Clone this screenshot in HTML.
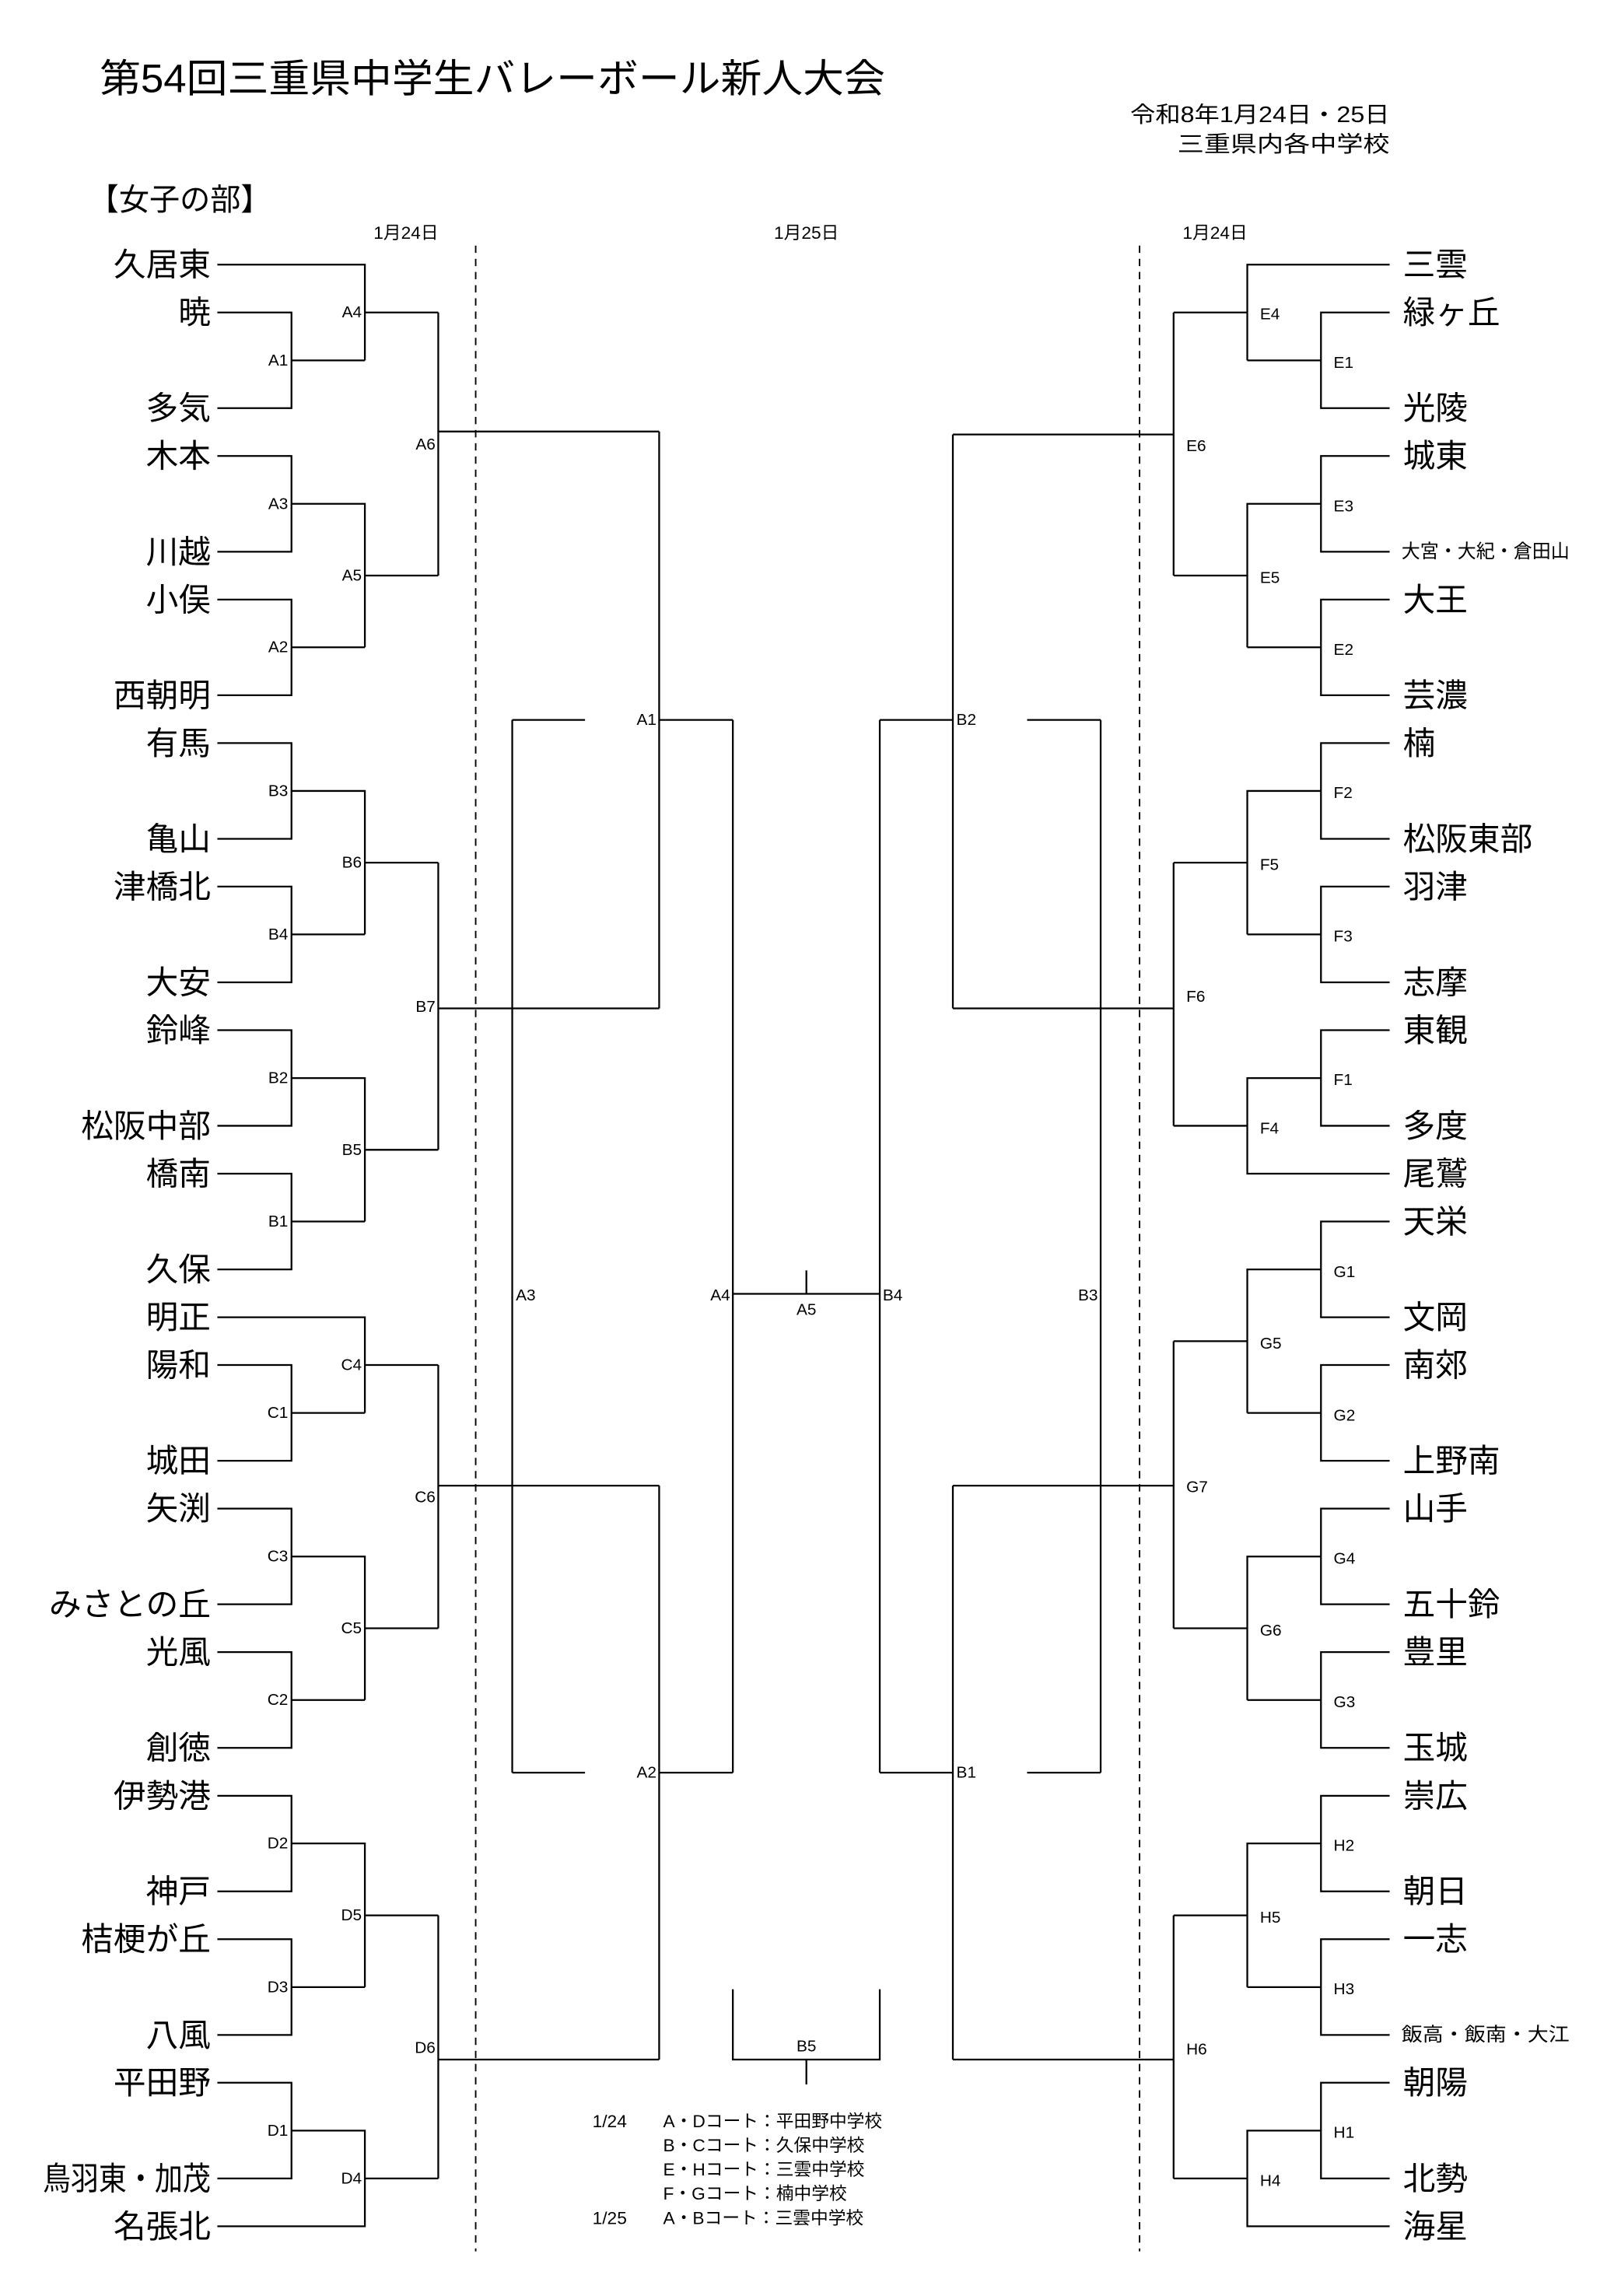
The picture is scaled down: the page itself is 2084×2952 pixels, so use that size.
<!DOCTYPE html>
<html><head><meta charset="utf-8">
<style>
html,body{margin:0;padding:0;background:#fff;}
svg{display:block;}
text{font-family:"Liberation Sans","Noto Sans CJK JP",sans-serif;fill:#000;}
.n{font-size:22px;dominant-baseline:central;}
.s{font-size:11px;dominant-baseline:central;}
.ns{font-size:13px;dominant-baseline:central;}
</style></head>
<body>
<svg width="2084" height="2952" viewBox="0 0 1100 1558" xmlns="http://www.w3.org/2000/svg">
<rect width="1100" height="1558" fill="#fff"/>
<g transform="matrix(1 0 0 0.99358 0 1.65)">
<text x="67.6" y="52" font-size="27" dominant-baseline="central" textLength="533" lengthAdjust="spacingAndGlyphs">第54回三重県中学生バレーボール新人大会</text>
<text x="767" y="77" font-size="15" dominant-baseline="central" textLength="176" lengthAdjust="spacingAndGlyphs">令和8年1月24日・25日</text>
<text x="799" y="97" font-size="15" dominant-baseline="central" textLength="144" lengthAdjust="spacingAndGlyphs">三重県内各中学校</text>
<text x="60" y="135" font-size="21" dominant-baseline="central" textLength="124" lengthAdjust="spacingAndGlyphs">【女子の部】</text>
<text x="275.5" y="157" font-size="12" text-anchor="middle" dominant-baseline="central">1月24日</text>
<text x="547.2" y="157" font-size="12" text-anchor="middle" dominant-baseline="central">1月25日</text>
<text x="824.5" y="157" font-size="12" text-anchor="middle" dominant-baseline="central">1月24日</text>

<g stroke="#000" stroke-width="1" stroke-dasharray="5 4">
<line x1="322.8" y1="166" x2="322.8" y2="1536"/>
<line x1="773.3" y1="166" x2="773.3" y2="1536"/>
</g>

<g fill="none" stroke="#000" stroke-width="1.2">
<path d="M147.5 179 H247.6 V244.4 M147.5 211.7 H197.8 V277 H147.5 M197.8 244.4 H247.6 M247.6 211.7 H297.4"/>
<path d="M147.5 309.7 H197.8 V375.1 H147.5 M197.8 342.4 H247.6 V440.4 M147.5 407.8 H197.8 V473.1 H147.5 M197.8 440.4 H247.6 M247.6 391.4 H297.4"/>
<path d="M297.4 211.7 V391.4 M297.4 293 H447.3"/>
<path d="M147.5 505.8 H197.8 V571.2 H147.5 M197.8 538.5 H247.6 V636.5 M147.5 603.8 H197.8 V669.2 H147.5 M197.8 636.5 H247.6 M247.6 587.5 H297.4"/>
<path d="M147.5 701.9 H197.8 V767.2 H147.5 M197.8 734.6 H247.6 V832.6 M147.5 799.9 H197.8 V865.3 H147.5 M197.8 832.6 H247.6 M247.6 783.6 H297.4"/>
<path d="M297.4 587.5 V783.6 M297.4 687 H447.3"/>
<path d="M147.5 898 H247.6 V963.3 M147.5 930.6 H197.8 V996 H147.5 M197.8 963.3 H247.6 M247.6 930.6 H297.4"/>
<path d="M147.5 1028.7 H197.8 V1094 H147.5 M197.8 1061.4 H247.6 V1159.4 M147.5 1126.7 H197.8 V1192.1 H147.5 M197.8 1159.4 H247.6 M247.6 1110.4 H297.4"/>
<path d="M297.4 930.6 V1110.4 M297.4 1013 H447.3"/>
<path d="M147.5 1224.8 H197.8 V1290.1 H147.5 M197.8 1257.4 H247.6 V1355.5 M147.5 1322.8 H197.8 V1388.2 H147.5 M197.8 1355.5 H247.6 M247.6 1306.5 H297.4"/>
<path d="M147.5 1420.8 H197.8 V1486.2 H147.5 M197.8 1453.5 H247.6 V1518.9 H147.5 M247.6 1486.2 H297.4"/>
<path d="M297.4 1306.5 V1486.2 M297.4 1405 H447.3"/>

<path d="M943 179 H846.4 V244.4 M943 211.7 H896.4 V277 H943 M896.4 244.4 H846.4 M846.4 211.7 H796.4"/>
<path d="M943 309.7 H896.4 V375.1 H943 M896.4 342.4 H846.4 V440.4 M943 407.8 H896.4 V473.1 H943 M896.4 440.4 H846.4 M846.4 391.4 H796.4"/>
<path d="M796.4 211.7 V391.4 M796.4 295 H646.6"/>
<path d="M943 505.8 H896.4 V571.2 H943 M896.4 538.5 H846.4 V636.5 M943 603.8 H896.4 V669.2 H943 M896.4 636.5 H846.4 M846.4 587.5 H796.4"/>
<path d="M943 701.9 H896.4 V767.2 H943 M896.4 734.6 H846.4 V799.9 H943 M846.4 767.2 H796.4"/>
<path d="M796.4 587.5 V767.2 M796.4 687 H646.6"/>
<path d="M943 832.6 H896.4 V898 H943 M896.4 865.3 H846.4 V963.3 M943 930.6 H896.4 V996 H943 M896.4 963.3 H846.4 M846.4 914.3 H796.4"/>
<path d="M943 1028.7 H896.4 V1094 H943 M896.4 1061.4 H846.4 V1159.4 M943 1126.7 H896.4 V1192.1 H943 M896.4 1159.4 H846.4 M846.4 1110.4 H796.4"/>
<path d="M796.4 914.3 V1110.4 M796.4 1013 H646.6"/>
<path d="M943 1224.8 H896.4 V1290.1 H943 M896.4 1257.4 H846.4 V1355.5 M943 1322.8 H896.4 V1388.2 H943 M896.4 1355.5 H846.4 M846.4 1306.5 H796.4"/>
<path d="M943 1420.8 H896.4 V1486.2 H943 M896.4 1453.5 H846.4 V1518.9 H943 M846.4 1486.2 H796.4"/>
<path d="M796.4 1306.5 V1486.2 M796.4 1405 H646.6"/>

<path d="M447.3 293 V687 M447.3 490 H497.3 M347.6 490 H397 M347.6 490 V1209 M497.3 490 V1209 M347.6 1209 H397 M447.3 1209 H497.3 M447.3 1013 V1405"/>
<path d="M646.6 295 V687 M597 490 H646.6 M697 490 H746.9 M597 490 V1209 M746.9 490 V1209 M597 1209 H646.6 M697 1209 H746.9 M646.6 1013 V1405"/>
<path d="M497.3 882 H597 M547.2 866 V882"/>
<path d="M497.3 1357 V1405 H597 V1357 M547.2 1405 V1422"/>
</g>

<g text-anchor="end">
<text class="n" x="143" y="179">久居東</text>
<text class="n" x="143" y="211.7">暁</text>
<text class="n" x="143" y="277">多気</text>
<text class="n" x="143" y="309.7">木本</text>
<text class="n" x="143" y="375.1">川越</text>
<text class="n" x="143" y="407.8">小俣</text>
<text class="n" x="143" y="473.1">西朝明</text>
<text class="n" x="143" y="505.8">有馬</text>
<text class="n" x="143" y="571.2">亀山</text>
<text class="n" x="143" y="603.8">津橋北</text>
<text class="n" x="143" y="669.2">大安</text>
<text class="n" x="143" y="701.9">鈴峰</text>
<text class="n" x="143" y="767.2">松阪中部</text>
<text class="n" x="143" y="799.9">橋南</text>
<text class="n" x="143" y="865.3">久保</text>
<text class="n" x="143" y="898">明正</text>
<text class="n" x="143" y="930.6">陽和</text>
<text class="n" x="143" y="996">城田</text>
<text class="n" x="143" y="1028.7">矢渕</text>
<text class="n" x="143" y="1094">みさとの丘</text>
<text class="n" x="143" y="1126.7">光風</text>
<text class="n" x="143" y="1192.1">創徳</text>
<text class="n" x="143" y="1224.8">伊勢港</text>
<text class="n" x="143" y="1290.1">神戸</text>
<text class="n" x="143" y="1322.8">桔梗が丘</text>
<text class="n" x="143" y="1388.2">八風</text>
<text class="n" x="143" y="1420.8">平田野</text>
<text class="n" x="143" y="1518.9">名張北</text>
</g>
<text class="n" x="29" y="1486.2" textLength="114" lengthAdjust="spacingAndGlyphs">鳥羽東・加茂</text>
<g>
<text class="n" x="952" y="179">三雲</text>
<text class="n" x="952" y="211.7">緑ヶ丘</text>
<text class="n" x="952" y="277">光陵</text>
<text class="n" x="952" y="309.7">城東</text>
<text class="ns" x="951" y="375.1" textLength="114" lengthAdjust="spacingAndGlyphs">大宮・大紀・倉田山</text>
<text class="n" x="952" y="407.8">大王</text>
<text class="n" x="952" y="473.1">芸濃</text>
<text class="n" x="952" y="505.8">楠</text>
<text class="n" x="952" y="571.2">松阪東部</text>
<text class="n" x="952" y="603.8">羽津</text>
<text class="n" x="952" y="669.2">志摩</text>
<text class="n" x="952" y="701.9">東観</text>
<text class="n" x="952" y="767.2">多度</text>
<text class="n" x="952" y="799.9">尾鷲</text>
<text class="n" x="952" y="832.6">天栄</text>
<text class="n" x="952" y="898">文岡</text>
<text class="n" x="952" y="930.6">南郊</text>
<text class="n" x="952" y="996">上野南</text>
<text class="n" x="952" y="1028.7">山手</text>
<text class="n" x="952" y="1094">五十鈴</text>
<text class="n" x="952" y="1126.7">豊里</text>
<text class="n" x="952" y="1192.1">玉城</text>
<text class="n" x="952" y="1224.8">崇広</text>
<text class="n" x="952" y="1290.1">朝日</text>
<text class="n" x="952" y="1322.8">一志</text>
<text class="ns" x="951" y="1388.2" textLength="114" lengthAdjust="spacingAndGlyphs">飯高・飯南・大江</text>
<text class="n" x="952" y="1420.8">朝陽</text>
<text class="n" x="952" y="1486.2">北勢</text>
<text class="n" x="952" y="1518.9">海星</text>
</g>

<g text-anchor="end">
<text class="s" x="195.5" y="244.4">A1</text>
<text class="s" x="245.5" y="211.7">A4</text>
<text class="s" x="195.5" y="342.4">A3</text>
<text class="s" x="195.5" y="440.4">A2</text>
<text class="s" x="245.5" y="391.4">A5</text>
<text class="s" x="295.5" y="302">A6</text>
<text class="s" x="195.5" y="538.5">B3</text>
<text class="s" x="195.5" y="636.5">B4</text>
<text class="s" x="245.5" y="587.5">B6</text>
<text class="s" x="195.5" y="734.6">B2</text>
<text class="s" x="195.5" y="832.6">B1</text>
<text class="s" x="245.5" y="783.6">B5</text>
<text class="s" x="295.5" y="686">B7</text>
<text class="s" x="195.5" y="963.3">C1</text>
<text class="s" x="245.5" y="930.6">C4</text>
<text class="s" x="195.5" y="1061.4">C3</text>
<text class="s" x="195.5" y="1159.4">C2</text>
<text class="s" x="245.5" y="1110.4">C5</text>
<text class="s" x="295.5" y="1021">C6</text>
<text class="s" x="195.5" y="1257.4">D2</text>
<text class="s" x="195.5" y="1355.5">D3</text>
<text class="s" x="245.5" y="1306.5">D5</text>
<text class="s" x="195.5" y="1453.5">D1</text>
<text class="s" x="245.5" y="1486.2">D4</text>
<text class="s" x="295.5" y="1397">D6</text>
<text class="s" x="445.5" y="490">A1</text>
<text class="s" x="445.5" y="1209">A2</text>
<text class="s" x="495.5" y="883">A4</text>
<text class="s" x="745" y="883">B3</text>
</g>
<g>
<text class="s" x="855" y="213">E4</text>
<text class="s" x="905" y="246">E1</text>
<text class="s" x="905" y="344">E3</text>
<text class="s" x="905" y="442">E2</text>
<text class="s" x="855" y="393">E5</text>
<text class="s" x="805" y="303">E6</text>
<text class="s" x="905" y="540">F2</text>
<text class="s" x="905" y="638">F3</text>
<text class="s" x="855" y="589">F5</text>
<text class="s" x="905" y="736">F1</text>
<text class="s" x="855" y="769">F4</text>
<text class="s" x="805" y="679">F6</text>
<text class="s" x="905" y="867">G1</text>
<text class="s" x="905" y="965">G2</text>
<text class="s" x="855" y="916">G5</text>
<text class="s" x="905" y="1063">G4</text>
<text class="s" x="905" y="1161">G3</text>
<text class="s" x="855" y="1112">G6</text>
<text class="s" x="805" y="1014">G7</text>
<text class="s" x="905" y="1259">H2</text>
<text class="s" x="905" y="1357">H3</text>
<text class="s" x="855" y="1308">H5</text>
<text class="s" x="905" y="1455">H1</text>
<text class="s" x="855" y="1488">H4</text>
<text class="s" x="805" y="1398">H6</text>
<text class="s" x="649" y="490">B2</text>
<text class="s" x="649" y="1209">B1</text>
<text class="s" x="350" y="883">A3</text>
<text class="s" x="599" y="883">B4</text>
</g>
<text class="s" x="547.2" y="893" text-anchor="middle">A5</text>
<text class="s" x="547.2" y="1396" text-anchor="middle">B5</text>

<g font-size="12" dominant-baseline="central">
<text x="402" y="1447">1/24</text>
<text x="450" y="1447">A・Dコート：平田野中学校</text>
<text x="450" y="1463.5">B・Cコート：久保中学校</text>
<text x="450" y="1480">E・Hコート：三雲中学校</text>
<text x="450" y="1496.5">F・Gコート：楠中学校</text>
<text x="402" y="1513">1/25</text>
<text x="450" y="1513">A・Bコート：三雲中学校</text>
</g>
</g>
</svg>
</body></html>
